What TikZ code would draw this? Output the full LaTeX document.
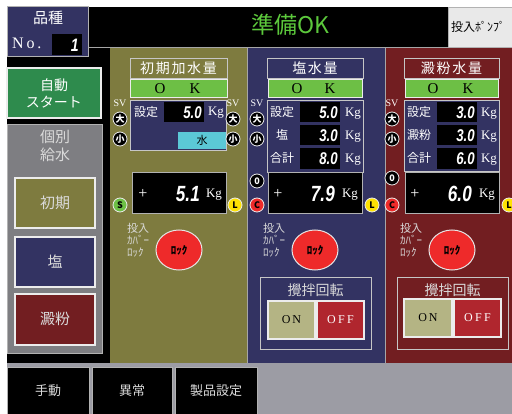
\documentclass[tikz,border=0pt]{standalone}
\usepackage{fontspec}
\setmainfont{Liberation Serif}
\newfontfamily\jp{Noto Sans CJK JP}
\newfontfamily\seg{Liberation Sans}[FakeStretch=0.78]
\definecolor{navy}{HTML}{333362}
\definecolor{olive}{HTML}{7E7B3F}
\definecolor{wine}{HTML}{721E21}
\definecolor{gbtn}{HTML}{2E8B4D}
\definecolor{gpanel}{HTML}{7E7E82}
\definecolor{bgray}{HTML}{9C9CA4}
\definecolor{okg}{HTML}{6DBF45}
\definecolor{cyanb}{HTML}{5BC8D6}
\definecolor{rlock}{HTML}{EE2A2A}
\definecolor{onc}{HTML}{B4B484}
\definecolor{offc}{HTML}{B0262E}
\definecolor{txtg}{HTML}{DADADA}
\definecolor{titleg}{HTML}{5CC83C}
\tikzset{
  jpt/.style={inner sep=0pt, font={\jp\fontsize{#1}{#1}\selectfont}},
  sert/.style={inner sep=0pt, font={\fontsize{#1}{#1}\selectfont}},
  segt/.style={inner sep=0pt, text=white, font={\seg\bfseries\itshape\fontsize{#1}{#1}\selectfont}},
  frame/.style={draw=gray!45, line width=0.8pt},
  btnframe/.style={draw=white!85!gray, line width=1.2pt},
  lamp/.style={circle, minimum size=14pt, inner sep=0pt, draw=white!85!gray, line width=0.8pt, font={\jp\bfseries\fontsize{9}{9}\selectfont}},
  lockbtn/.style={ellipse, minimum width=46pt, minimum height=40pt, inner sep=0pt, fill=rlock, draw=white!80!gray, line width=1pt, font={\jp\bfseries\fontsize{11}{11}\selectfont}},
  covertxt/.style={jpt=11, text=txtg, anchor=north west, align=left},
}
\usetikzlibrary{shapes.geometric}
\begin{document}
\begin{tikzpicture}[x=1pt,y=-1pt]
\useasboundingbox (0,0) rectangle (512,414);
\fill[white] (0,0) rectangle (512,414);
% backgrounds
\fill[black] (7,7) rectangle (512,363);
\fill[bgray] (7,363) rectangle (512,414);
\fill[olive] (110,48) rectangle (247,363);
\fill[navy] (247,48) rectangle (385,363);
\fill[wine] (385,48) rectangle (512,363);
\draw[gray!70, line width=0.8pt] (88,47.5) -- (512,47.5);
\draw[gray!70, line width=0.8pt] (247,48) -- (247,363);
\draw[gray!70, line width=0.8pt] (385,48) -- (385,363);
% top
\filldraw[fill=navy, draw=gray!60, line width=1pt] (7,7) rectangle (88,57);
\node[jpt=15, text=white] (hinshu) at (48,18) {品種};
\node[sert=16, text=white, anchor=west] (no) at (12,43) {\addfontfeature{LetterSpace=18}No.};
\fill[black] (52,34) rectangle (82,55);
\node[segt=18, anchor=east] (one) at (79,45) {1};
\filldraw[fill=white!83!gray, draw=gray!60] (448,7) rectangle (515,47);
\node[jpt=12, anchor=west] (pump) at (451,27) {投入ﾎﾟﾝﾌﾟ};
\node[jpt=23, text=titleg] (junbi) at (290,25) {準備OK};
% left column
\filldraw[fill=gbtn, btnframe] (7,68) rectangle (101,118);
\node[jpt=14, text=white, align=center] (auto) at (54,93) {自動\\[3pt]スタート};
\filldraw[fill=gpanel, draw=gray!60, line width=0.8pt] (7,124) rectangle (102,353);
\node[jpt=15, text=txtg, align=center] (kobetsu) at (55,146) {個別\\[3pt]給水};
\filldraw[fill=olive, btnframe] (15,178) rectangle (95,228);
\node[jpt=15, text=txtg] (b1) at (55,203) {初期};
\filldraw[fill=navy, btnframe] (15,237) rectangle (95,287);
\node[jpt=15, text=txtg] (b2) at (55,262) {塩};
\filldraw[fill=wine, btnframe] (15,294) rectangle (95,345);
\node[jpt=15, text=txtg] (b3) at (55,319) {澱粉};
% bottom buttons
\filldraw[fill=black, draw=gray!60, line width=0.8pt] (7,367) rectangle (89,416);
\filldraw[fill=black, draw=gray!60, line width=0.8pt] (92,367) rectangle (172,416);
\filldraw[fill=black, draw=gray!60, line width=0.8pt] (175,367) rectangle (257,416);
\node[jpt=13, text=txtg] (m1) at (48,391) {手動};
\node[jpt=13, text=txtg] (m2) at (132,391) {異常};
\node[jpt=13, text=txtg] (m3) at (216,391) {製品設定};
% ===== panel 1
\draw[frame] (130,58) rectangle (227,78);
\node[jpt=14, text=white] (t1) at (178.5,68) {\addfontfeature{LetterSpace=12}初期加水量};
\filldraw[fill=okg, draw=white!85!gray, line width=0.8pt] (130,79) rectangle (227,97);
\node[sert=15] (o1) at (160,88.5) {O};
\node[sert=15] (k1) at (195,88.5) {K};
\filldraw[fill=navy, frame] (130,100) rectangle (226,150);
\node[jpt=12, text=white] (s1) at (146,112) {設定};
\fill[black] (164,102) rectangle (204,122);
\node[segt=17, anchor=east] (v1) at (202,112.5) {5.0};
\node[sert=13, text=white] (kg1) at (216,113) {Kg};
\fill[cyanb] (178,132) rectangle (226,149);
\node[jpt=11] (mizu) at (202,140.5) {水};
\node[sert=10, text=white] (sv1a) at (120,103) {SV};
\node[sert=10, text=white] (sv1b) at (233,103) {SV};
\node[lamp, fill=black, text=white] (d1a) at (120,119) {大};
\node[lamp, fill=black, text=white] (x1a) at (120,139) {小};
\node[lamp, fill=black, text=white] (d1b) at (233,119) {大};
\node[lamp, fill=black, text=white] (x1b) at (233,139) {小};
\filldraw[fill=black, draw=gray!60, line width=1pt] (132,173) rectangle (226,214);
\node[sert=16, text=white] (p1) at (143,194) {+};
\node[segt=22, anchor=east] (r1) at (200,194) {5.1};
\node[sert=13, text=white] (rk1) at (214,195) {Kg};
\node[lamp, fill=okg] (sl1) at (120,205) {S};
\node[lamp, fill=yellow!85!orange] (ll1) at (235,205) {L};
\node[covertxt] (c1) at (127,223) {投入\\[1pt]ｶﾊﾞｰ\\[1pt]ﾛｯｸ};
\node[lockbtn] (lk1) at (179,250) {ﾛｯｸ};
% ===== panel 2
\draw[frame] (267,58) rectangle (363,78);
\node[jpt=14, text=white] (t2) at (315,68) {\addfontfeature{LetterSpace=12}塩水量};
\filldraw[fill=okg, draw=white!85!gray, line width=0.8pt] (268,79) rectangle (362,97);
\node[sert=15] (o2) at (297,88.5) {O};
\node[sert=15] (k2) at (330,88.5) {K};
\filldraw[fill=navy, frame] (267,100) rectangle (363,172);
\node[jpt=12, text=white] (s2a) at (282,112) {設定};
\node[jpt=12, text=white] (s2b) at (282,135) {塩};
\node[jpt=12, text=white] (s2c) at (282,158) {合計};
\fill[black] (300,102) rectangle (340,122);
\fill[black] (300,125) rectangle (340,145);
\fill[black] (300,148) rectangle (340,169);
\node[segt=17, anchor=east] (v2a) at (338,112.5) {5.0};
\node[segt=17, anchor=east] (v2b) at (338,135.5) {3.0};
\node[segt=17, anchor=east] (v2c) at (338,158.5) {8.0};
\node[sert=13, text=white] (kg2a) at (353,114) {Kg};
\node[sert=13, text=white] (kg2b) at (353,137) {Kg};
\node[sert=13, text=white] (kg2c) at (353,160) {Kg};
\filldraw[fill=black, draw=gray!60, line width=1pt] (268,173) rectangle (362,214);
\node[sert=16, text=white] (p2) at (278,194) {+};
\node[segt=22, anchor=east] (r2) at (335,194) {7.9};
\node[sert=13, text=white] (rk2) at (350,195) {Kg};
\node[lamp, fill=yellow!85!orange] (ll2) at (372,205) {L};
\node[sert=10, text=white] (sv2) at (257,103) {SV};
\node[lamp, fill=black, text=white] (d2) at (257,119) {大};
\node[lamp, fill=black, text=white] (x2) at (257,139) {小};
\node[lamp, fill=black, text=white] (z2) at (257,181) {0};
\node[lamp, fill=rlock] (cc2) at (257,205) {C};
\node[covertxt] (c2) at (263,223) {投入\\[1pt]ｶﾊﾞｰ\\[1pt]ﾛｯｸ};
\node[lockbtn] (lk2) at (315,250) {ﾛｯｸ};
\draw[frame, line width=0.6pt] (260,277) rectangle (371,349);
\node[jpt=14, text=txtg] (st2) at (315.5,290) {攪拌回転};
\filldraw[fill=onc, btnframe] (268,301) rectangle (315,339);
\filldraw[fill=offc, btnframe] (317,301) rectangle (364,339);
\node[sert=12] (on2) at (291.5,320) {\addfontfeature{LetterSpace=15}ON};
\node[sert=12, text=white] (off2) at (340.5,320) {\addfontfeature{LetterSpace=20}OFF};
% ===== panel 3
\draw[frame] (404,58) rectangle (499,78);
\node[jpt=14, text=white] (t3) at (451.5,68) {\addfontfeature{LetterSpace=12}澱粉水量};
\filldraw[fill=okg, draw=white!85!gray, line width=0.8pt] (405,79) rectangle (498,97);
\node[sert=15] (o3) at (433,88.5) {O};
\node[sert=15] (k3) at (468,88.5) {K};
\filldraw[fill=navy, frame] (404,100) rectangle (499,171);
\node[jpt=12, text=white] (s3a) at (419,112) {設定};
\node[jpt=12, text=white] (s3b) at (419,135) {澱粉};
\node[jpt=12, text=white] (s3c) at (419,158) {合計};
\fill[black] (437,102) rectangle (477,122);
\fill[black] (437,125) rectangle (477,145);
\fill[black] (437,148) rectangle (477,169);
\node[segt=17, anchor=east] (v3a) at (475,112.5) {3.0};
\node[segt=17, anchor=east] (v3b) at (475,135.5) {3.0};
\node[segt=17, anchor=east] (v3c) at (475,158.5) {6.0};
\node[sert=13, text=white] (kg3a) at (489,114) {Kg};
\node[sert=13, text=white] (kg3b) at (489,137) {Kg};
\node[sert=13, text=white] (kg3c) at (489,160) {Kg};
\filldraw[fill=black, draw=gray!60, line width=1pt] (405,173) rectangle (499,214);
\node[sert=16, text=white] (p3) at (415,194) {+};
\node[segt=22, anchor=east] (r3) at (472,194) {6.0};
\node[sert=13, text=white] (rk3) at (487,195) {Kg};
\node[lamp, fill=yellow!85!orange] (ll3) at (509,205) {L};
\node[sert=10, text=white] (sv3) at (392,103) {SV};
\node[lamp, fill=black, text=white] (d3) at (392,119) {大};
\node[lamp, fill=black, text=white] (x3) at (392,139) {小};
\node[lamp, fill=black, text=white] (z3) at (392,178) {0};
\node[lamp, fill=rlock] (cc3) at (392,205) {C};
\node[covertxt] (c3) at (400,223) {投入\\[1pt]ｶﾊﾞｰ\\[1pt]ﾛｯｸ};
\node[lockbtn] (lk3) at (452,250) {ﾛｯｸ};
\draw[frame, line width=0.6pt] (397,277) rectangle (508,349);
\node[jpt=14, text=txtg] (st3) at (452.5,290) {攪拌回転};
\filldraw[fill=onc, btnframe] (404,299) rectangle (452,337);
\filldraw[fill=offc, btnframe] (454,299) rectangle (501,337);
\node[sert=12] (on3) at (428,318) {\addfontfeature{LetterSpace=15}ON};
\node[sert=12, text=white] (off3) at (477.5,318) {\addfontfeature{LetterSpace=20}OFF};
\end{tikzpicture}
\end{document}
